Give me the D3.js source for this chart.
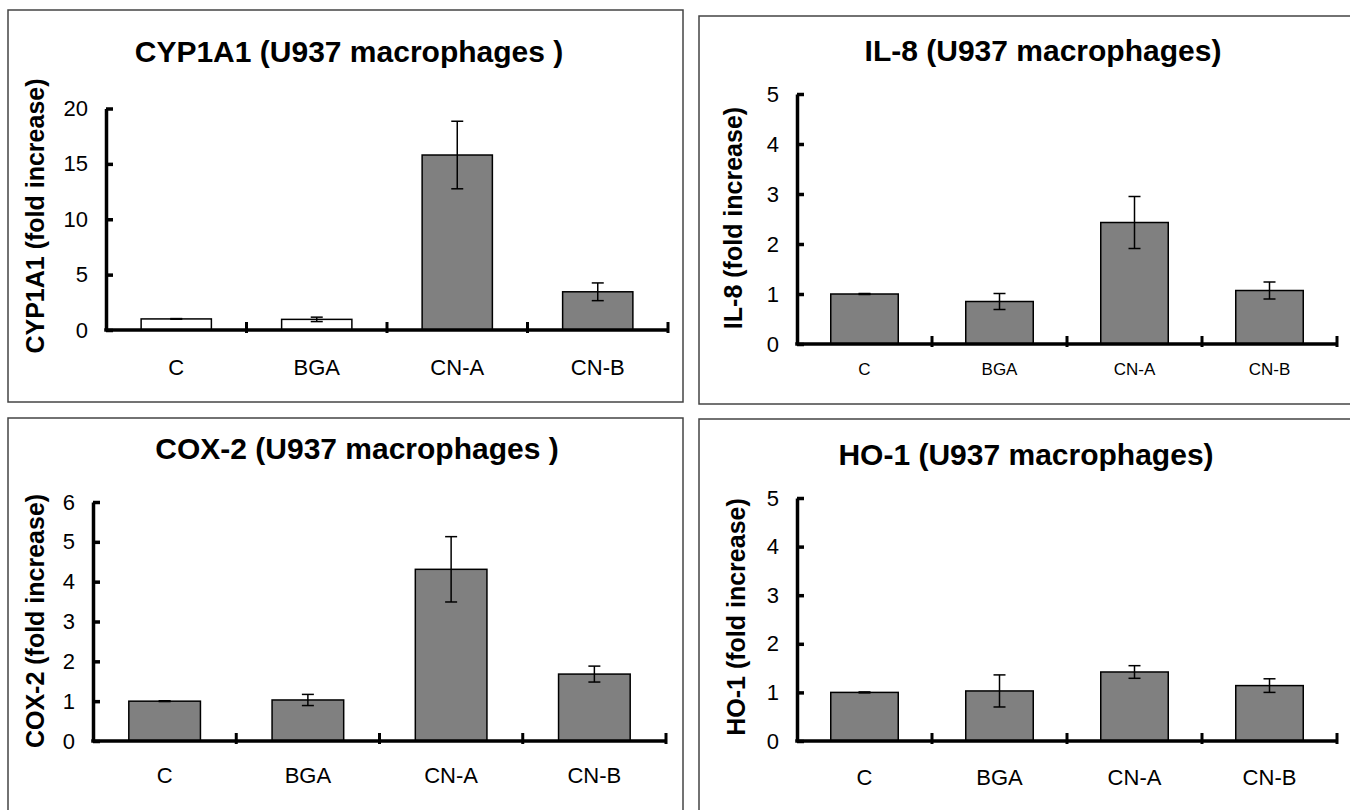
<!DOCTYPE html>
<html>
<head>
<meta charset="utf-8">
<script src="https://cdn.jsdelivr.net/npm/d3@7"></script>
<style>
  body { margin: 0; background: #fff; }
  svg { display: block; font-family: "Liberation Sans", Arial, sans-serif; }
</style>
</head>
<body>
<div id="chart"></div>
<script>
// data
const categories = ["C", "BGA", "CN-A", "CN-B"];

const cyp1a1Mean = [1.0, 0.96, 15.8, 3.45];
const cyp1a1Err  = [0.03, 0.2, 3.05, 0.8];
const cyp1a1Ticks = [0, 5, 10, 15, 20];

const il8Mean = [1.0, 0.85, 2.43, 1.07];
const il8Err  = [0.01, 0.16, 0.52, 0.17];
const il8Ticks = [0, 1, 2, 3, 4, 5];

const cox2Mean = [1.0, 1.03, 4.31, 1.68];
const cox2Err  = [0.01, 0.14, 0.82, 0.2];
const cox2Ticks = [0, 1, 2, 3, 4, 5, 6];

const ho1Mean = [1.0, 1.03, 1.42, 1.14];
const ho1Err  = [0.01, 0.33, 0.13, 0.14];
const ho1Ticks = [0, 1, 2, 3, 4, 5];

// layout of the four panels
const panels = [
  {title: "CYP1A1 (U937 macrophages )", ytitle: "CYP1A1 (fold increase)",
   mean: cyp1a1Mean, err: cyp1a1Err, ticks: cyp1a1Ticks, hollow: ["C", "BGA"],
   box: [8, 10, 675, 392], x0: 106, x1: 668, yTop: 108.5, yBottom: 330,
   titleX: 349, titleY: 62, ytX: 35, ytY: 216, catSize: 22, catPad: 29},
  {title: "IL-8 (U937 macrophages)", ytitle: "IL-8 (fold increase)",
   mean: il8Mean, err: il8Err, ticks: il8Ticks, hollow: [],
   box: [699, 16, 700, 388], x0: 797, x1: 1337, yTop: 94, yBottom: 344,
   titleX: 1043, titleY: 61, ytX: 733, ytY: 218, catSize: 17, catPad: 19},
  {title: "COX-2 (U937 macrophages )", ytitle: "COX-2 (fold increase)",
   mean: cox2Mean, err: cox2Err, ticks: cox2Ticks, hollow: [],
   box: [8, 418, 675, 420], x0: 93, x1: 666, yTop: 502, yBottom: 741,
   titleX: 357, titleY: 459, ytX: 35, ytY: 621, catSize: 22, catPad: 26},
  {title: "HO-1 (U937 macrophages)", ytitle: "HO-1 (fold increase)",
   mean: ho1Mean, err: ho1Err, ticks: ho1Ticks, hollow: [],
   box: [699, 419, 700, 420], x0: 797, x1: 1337, yTop: 498, yBottom: 741,
   titleX: 1026, titleY: 465, ytX: 736, ytY: 617, catSize: 22, catPad: 28}
];

const svg = d3.select("#chart").append("svg")
    .attr("width", 1350)
    .attr("height", 810);

panels.forEach(function(p) {
    const g = svg.append("g");

    g.append("rect")
        .attr("x", p.box[0]).attr("y", p.box[1])
        .attr("width", p.box[2]).attr("height", p.box[3])
        .attr("fill", "none")
        .attr("stroke", "#444")
        .attr("stroke-width", 1.5);

    const x = d3.scaleBand()
        .domain(categories)
        .range([p.x0, p.x1])
        .paddingInner(0.5)
        .paddingOuter(0.25);
    const y = d3.scaleLinear()
        .domain([0, d3.max(p.ticks)])
        .range([p.yBottom, p.yTop]);

    const rows = categories.map((c, i) => ({cat: c, m: p.mean[i], e: p.err[i]}));

    // bars
    g.selectAll(".bar")
        .data(rows)
        .enter()
        .append("rect")
        .attr("class", "bar")
        .attr("x", d => x(d.cat))
        .attr("y", d => y(d.m))
        .attr("width", x.bandwidth())
        .attr("height", d => y(0) - y(d.m))
        .attr("fill", d => p.hollow.indexOf(d.cat) >= 0 ? "#fff" : "#808080")
        .attr("stroke", "#000")
        .attr("stroke-width", 1.5);

    // error bars
    const eb = g.selectAll(".err")
        .data(rows)
        .enter()
        .append("g")
        .attr("class", "err")
        .attr("stroke", "#000")
        .attr("stroke-width", 1.5);
    const cx = d => x(d.cat) + x.bandwidth() / 2;
    eb.append("line")
        .attr("x1", cx).attr("x2", cx)
        .attr("y1", d => y(d.m - d.e)).attr("y2", d => y(d.m + d.e));
    eb.append("line")
        .attr("x1", d => cx(d) - 6).attr("x2", d => cx(d) + 6)
        .attr("y1", d => y(d.m + d.e)).attr("y2", d => y(d.m + d.e));
    eb.append("line")
        .attr("x1", d => cx(d) - 6).attr("x2", d => cx(d) + 6)
        .attr("y1", d => y(d.m - d.e)).attr("y2", d => y(d.m - d.e));

    // y axis, ticks pointing inward
    const yAxis = g.append("g")
        .attr("transform", "translate(" + p.x0 + ",0)")
        .call(d3.axisLeft(y).tickValues(p.ticks).tickFormat(d3.format("d"))
            .tickSize(-7).tickSizeOuter(0).tickPadding(18));
    yAxis.select(".domain").attr("stroke-width", 3.5);
    yAxis.selectAll(".tick line").attr("stroke-width", 3.5);
    yAxis.selectAll("text")
        .attr("font-size", 22)
        .attr("fill", "#000")
        .attr("font-family", "Liberation Sans, Arial, sans-serif");

    // x axis: category labels, boundary tick marks
    const xAxis = g.append("g")
        .attr("transform", "translate(0," + p.yBottom + ")")
        .call(d3.axisBottom(x).tickSize(0).tickPadding(p.catPad));
    xAxis.select(".domain").remove();
    xAxis.selectAll("text")
        .attr("font-size", p.catSize)
        .attr("fill", "#000")
        .attr("font-family", "Liberation Sans, Arial, sans-serif");

    g.append("line")
        .attr("x1", p.x0 - 1.75).attr("x2", p.x1)
        .attr("y1", p.yBottom).attr("y2", p.yBottom)
        .attr("stroke", "#000")
        .attr("stroke-width", 3.5);

    const step = x.step();
    g.selectAll(".xtick")
        .data(d3.range(1, categories.length + 1))
        .enter()
        .append("line")
        .attr("x1", i => p.x0 + i * step)
        .attr("x2", i => p.x0 + i * step)
        .attr("y1", p.yBottom - 8)
        .attr("y2", p.yBottom + 3)
        .attr("stroke", "#000")
        .attr("stroke-width", 3);

    // titles
    g.append("text")
        .attr("x", p.titleX)
        .attr("y", p.titleY)
        .attr("text-anchor", "middle")
        .attr("font-size", 30)
        .attr("font-weight", "bold")
        .text(p.title);

    g.append("text")
        .attr("transform", "translate(" + (p.ytX + 9) + "," + p.ytY + ") rotate(-90)")
        .attr("text-anchor", "middle")
        .attr("font-size", 25)
        .attr("font-weight", "bold")
        .text(p.ytitle);
});
</script>
</body>
</html>
